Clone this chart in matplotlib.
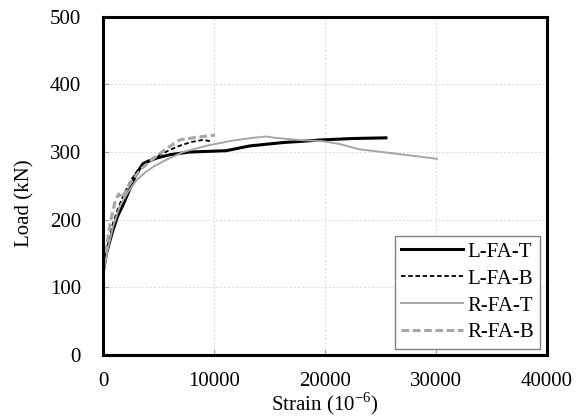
import matplotlib
matplotlib.use("Agg")
import matplotlib.pyplot as plt

plt.rcParams['font.family'] = ['Liberation Serif', 'DejaVu Serif']
plt.rcParams['mathtext.fontset'] = 'custom'
plt.rcParams['mathtext.rm'] = 'Liberation Serif'

# strain (10^-6) and load (kN)
lfat_x = [0, 0, 300, 800, 1300, 1800, 2400, 3000, 3600, 4200, 4800, 6000, 7800, 9500, 11100, 13200, 16200, 19800, 22500, 25500]
lfat_y = [0, 122, 150, 180, 205, 222, 245, 268, 283, 287, 291, 296, 300, 301, 302, 309, 314, 318, 320, 321]

lfab_x = [0, 0, 300, 800, 1300, 1800, 2500, 3200, 4000, 5000, 6000, 7000, 8000, 9000, 9700]
lfab_y = [0, 120, 155, 190, 215, 235, 258, 275, 287, 295, 303, 310, 315, 318, 316]

rfat_x = [0, 0, 400, 900, 1500, 2200, 3000, 3800, 4600, 5500, 7200, 9500, 11700, 13500, 14700, 15500, 17500, 19800, 21300, 23100, 26700, 30100]
rfat_y = [0, 118, 155, 190, 220, 240, 258, 270, 279, 287, 300, 310, 317, 321, 323, 321, 318, 316, 312, 304, 297, 290]

rfab_x = [0, 0, 300, 700, 1100, 1400, 1700, 2200, 2800, 3500, 4500, 5700, 6900, 8500, 10100]
rfab_y = [0, 120, 160, 200, 228, 238, 232, 248, 262, 276, 290, 305, 318, 322, 325]

fig = plt.figure(figsize=(5.86, 4.2), dpi=100)
ax = fig.add_axes([0.176, 0.155, 0.757, 0.805])

ax.plot(lfat_x, lfat_y, color='black', lw=2.2, label='L-FA-T')
ax.plot(lfab_x, lfab_y, color='black', lw=1.3, ls=(0, (2.5, 1.5)), label='L-FA-B')
ax.plot(rfat_x, rfat_y, color='#a6a6a6', lw=1.4, label='R-FA-T')
ax.plot(rfab_x, rfab_y, color='#a6a6a6', lw=2.2, ls=(0, (2.5, 1.2)), label='R-FA-B')

ax.set_xlim(0, 40000)
ax.set_ylim(0, 500)
ax.set_xticks([0, 10000, 20000, 30000, 40000])
ax.set_yticks([0, 100, 200, 300, 400, 500])
ax.grid(True, color='#dadada', ls=(0, (2, 2)), lw=0.7)
ax.tick_params(direction='in', length=4, color='#a0a0a0', labelsize=15)
ax.tick_params(axis='x', pad=12)
ax.tick_params(axis='y', pad=16)
for s in ax.spines.values():
    s.set_linewidth(2.2)
    s.set_color('black')

ax.set_xlabel(r'Strain (10$^{-6}$)', fontsize=15, labelpad=0)
ax.set_ylabel('Load (kN)', fontsize=15)
ax.yaxis.set_label_coords(-0.155, 0.45)

leg = ax.legend(loc='lower right', fontsize=15, fancybox=False, edgecolor='#808080',
                framealpha=1, handlelength=3.0, borderaxespad=0.3, handletextpad=0.2,
                labelspacing=0.35, borderpad=0.3)
leg.get_frame().set_linewidth(1)

fig.savefig('out.png', dpi=100)
